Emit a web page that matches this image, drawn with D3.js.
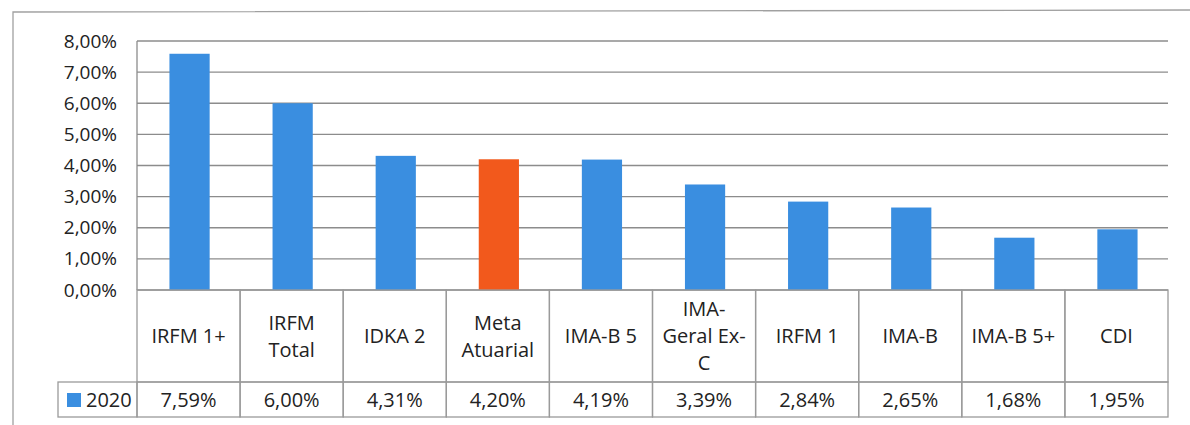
<!DOCTYPE html>
<html lang="pt">
<head>
    <meta charset="UTF-8">
    <title>Rentabilidade 2020</title>
    <script src="https://cdn.jsdelivr.net/npm/d3@7"></script>
    <style>
        body { margin: 0; background: #fff; }
        svg text { font-family: "Open Sans", sans-serif; fill: #222; font-weight: 500; }
        .grid line { stroke: #8c8c8c; stroke-width: 1.3; }
        .cell { fill: none; stroke: #9a9a9a; stroke-width: 1.3; }
    </style>
</head>
<body>
<svg width="1190" height="425"></svg>
<script>
    // data
    var categories = ["IRFM 1+", "IRFM Total", "IDKA 2", "Meta Atuarial", "IMA-B 5", "IMA-Geral Ex-C", "IRFM 1", "IMA-B", "IMA-B 5+", "CDI"];
    var labelLines = [["IRFM 1+"], ["IRFM", "Total"], ["IDKA 2"], ["Meta", "Atuarial"], ["IMA-B 5"], ["IMA-", "Geral Ex-", "C"], ["IRFM 1"], ["IMA-B"], ["IMA-B 5+"], ["CDI"]];
    var values2020 = [7.59, 6.00, 4.31, 4.20, 4.19, 3.39, 2.84, 2.65, 1.68, 1.95];
    var seriesName = "2020";
    var highlight = "Meta Atuarial";
    var yTicks = [0, 1, 2, 3, 4, 5, 6, 7, 8];

    var blue = "#3a8ee0", orange = "#f2591c";

    var svg = d3.select("svg");
    var plotLeft = 137, plotRight = 1168, plotTop = 41, plotBottom = 290;
    var headerBottom = 382, tableBottom = 417, legendLeft = 58;

    var pt = d3.formatLocale({decimal: ",", thousands: ".", grouping: [3], currency: ["R$", ""]});
    var pct = function(v) { return pt.format(".2f")(v) + "%"; };

    var x = d3.scaleBand().domain(categories).range([plotLeft, plotRight]).paddingInner(0).paddingOuter(0);
    var y = d3.scaleLinear().domain([0, 8]).range([plotBottom, plotTop]);

    // outer frame
    svg.append("path")
        .attr("d", "M13,425 L13,12 L1190,10")
        .attr("fill", "none").attr("stroke", "#a0a0a0").attr("stroke-width", 1.3);

    // gridlines
    var grid = svg.append("g").attr("class", "grid");
    grid.selectAll("line").data(yTicks).enter().append("line")
        .attr("x1", plotLeft).attr("x2", plotRight)
        .attr("y1", function(d) { return y(d); })
        .attr("y2", function(d) { return y(d); });
    grid.append("line").attr("x1", plotLeft).attr("x2", plotLeft).attr("y1", plotTop).attr("y2", plotBottom);

    // y axis
    var yAxis = svg.append("g")
        .attr("transform", "translate(" + (plotLeft - 20) + ",0)")
        .call(d3.axisLeft(y).tickValues(yTicks).tickSize(0).tickPadding(0).tickFormat(pct));
    yAxis.select(".domain").remove();
    yAxis.selectAll("text").attr("font-size", "19px").attr("fill", "#222")
        .style("font-family", "'Open Sans', sans-serif");

    // bars
    var bw = x.bandwidth() * 0.39;
    svg.selectAll(".bar").data(categories).enter().append("rect")
        .attr("class", "bar")
        .attr("x", function(d) { return x(d) + (x.bandwidth() - bw) / 2 + 1; })
        .attr("width", bw)
        .attr("y", function(d, i) { return y(values2020[i]); })
        .attr("height", function(d, i) { return plotBottom - y(values2020[i]); })
        .attr("fill", function(d) { return d === highlight ? orange : blue; });

    // data table
    var table = svg.append("g");
    table.selectAll(".hcell").data(categories).enter().append("rect")
        .attr("class", "cell")
        .attr("x", function(d) { return x(d); }).attr("width", x.bandwidth())
        .attr("y", plotBottom).attr("height", headerBottom - plotBottom);
    table.selectAll(".vcell").data(categories).enter().append("rect")
        .attr("class", "cell")
        .attr("x", function(d) { return x(d); }).attr("width", x.bandwidth())
        .attr("y", headerBottom).attr("height", tableBottom - headerBottom);
    table.append("rect").attr("class", "cell")
        .attr("x", legendLeft).attr("width", plotLeft - legendLeft)
        .attr("y", headerBottom).attr("height", tableBottom - headerBottom);

    // category labels
    var lh = 27;
    table.selectAll(".lab").data(categories).enter().append("text")
        .attr("text-anchor", "middle").attr("font-size", "20px")
        .each(function(d, i) {
            var lines = labelLines[i];
            var cy = (plotBottom + headerBottom) / 2 + 7 - (lines.length - 1) * lh / 2;
            var t = d3.select(this);
            lines.forEach(function(s, k) {
                t.append("tspan")
                    .attr("x", x(d) + x.bandwidth() / 2)
                    .attr("y", cy + k * lh)
                    .text(s);
            });
        });

    // values
    table.selectAll(".val").data(categories).enter().append("text")
        .attr("text-anchor", "middle").attr("font-size", "20px")
        .attr("x", function(d) { return x(d) + x.bandwidth() / 2; })
        .attr("y", (headerBottom + tableBottom) / 2 + 7)
        .text(function(d, i) { return pct(values2020[i]); });

    // legend key
    table.append("rect").attr("x", 67).attr("y", 393).attr("width", 14).attr("height", 14).attr("fill", blue);
    table.append("text").attr("x", 86).attr("y", (headerBottom + tableBottom) / 2 + 7)
        .attr("font-size", "20px").text(seriesName);
</script>
</body>
</html>
